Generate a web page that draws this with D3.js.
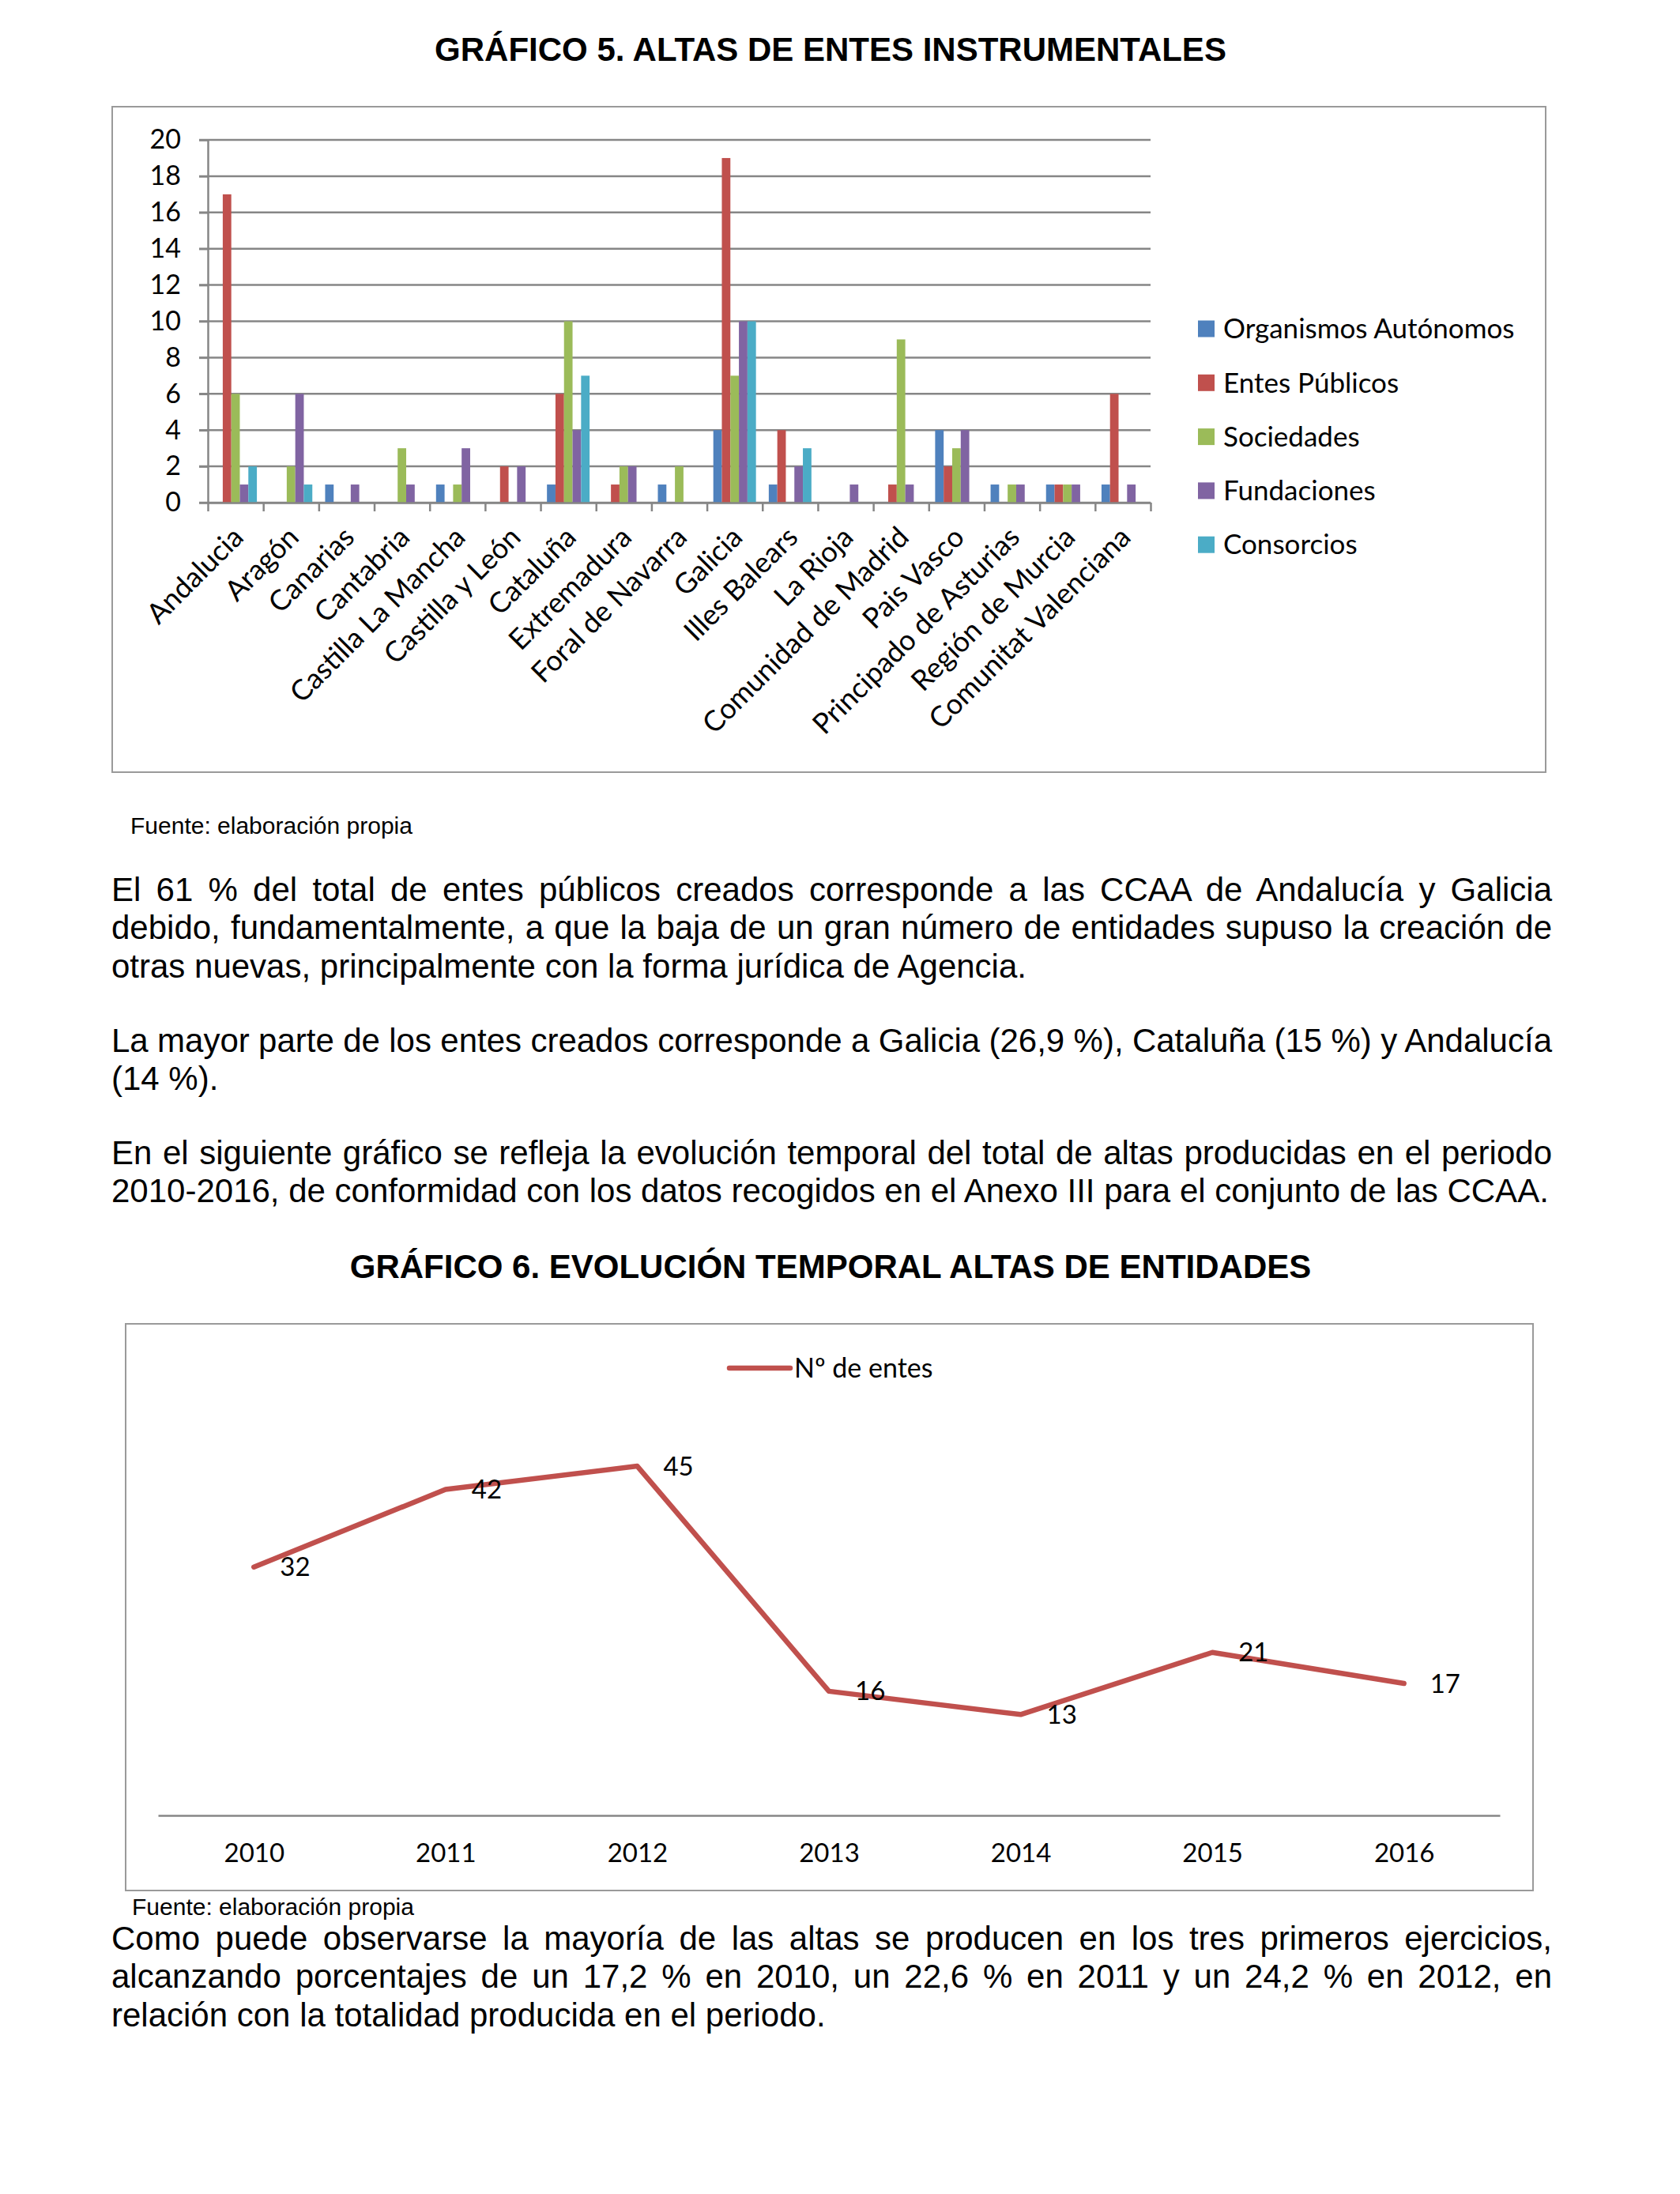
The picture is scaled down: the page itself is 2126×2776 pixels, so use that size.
<!DOCTYPE html>
<html>
<head>
<meta charset="utf-8">
<script src="https://cdn.jsdelivr.net/npm/d3@7"></script>
<style>
  html, body { margin: 0; padding: 0; background: #fff; }
  body { width: 2126px; height: 2776px; position: relative; overflow: hidden; }
  svg { position: absolute; left: 0; top: 0; }
  .line { position: absolute; left: 141px; width: 1823px; font-family: "Liberation Sans", Arial, sans-serif;
          font-size: 42px; line-height: 42px; color: #000; white-space: nowrap; }
</style>
</head>
<body>
<svg id="page" width="2126" height="2776"></svg>
<script>
// ---------- DATA ----------
const categories = ["Andalucia", "Aragón", "Canarias", "Cantabria", "Castilla La Mancha", "Castilla y León",
  "Cataluña", "Extremadura", "Foral de Navarra", "Galicia", "Illes Balears", "La Rioja",
  "Comunidad de Madrid", "Pais Vasco", "Principado de Asturias", "Región de Murcia", "Comunitat Valenciana"];
const seriesNames = ["Organismos Autónomos", "Entes Públicos", "Sociedades", "Fundaciones", "Consorcios"];
const organismosAutonomos = [0, 0, 1, 0, 1, 0, 1, 0, 1, 4, 1, 0, 0, 4, 1, 1, 1];
const entesPublicos       = [17, 0, 0, 0, 0, 2, 6, 1, 0, 19, 4, 0, 1, 2, 0, 1, 6];
const sociedades          = [6, 2, 0, 3, 1, 0, 10, 2, 2, 7, 0, 0, 9, 3, 1, 1, 0];
const fundaciones         = [1, 6, 1, 1, 3, 2, 4, 2, 0, 10, 2, 1, 1, 4, 1, 1, 1];
const consorcios          = [2, 1, 0, 0, 0, 0, 7, 0, 0, 10, 3, 0, 0, 0, 0, 0, 0];
const yTicks = [0, 2, 4, 6, 8, 10, 12, 14, 16, 18, 20];

const years = ["2010", "2011", "2012", "2013", "2014", "2015", "2016"];
const numEntes = [32, 42, 45, 16, 13, 21, 17];
const lineSeriesName = "Nº de entes";

// ---------- STYLE ----------
const seriesColors = ["#4F81BD", "#C0504D", "#9BBB59", "#8064A2", "#4BACC6"];
const chartFont = "Lato, 'Open Sans', sans-serif";
const bodyFont = "'Liberation Sans', Arial, sans-serif";
const gridColor = "#868686";

const svg = d3.select("#page");

// ---------- TITLES & SOURCES ----------
svg.append("text").attr("x", 1051).attr("y", 77).attr("text-anchor", "middle")
  .attr("font-family", bodyFont).attr("font-weight", "bold").attr("font-size", 42)
  .text("GRÁFICO 5. ALTAS DE ENTES INSTRUMENTALES");
svg.append("text").attr("x", 1051).attr("y", 1617).attr("text-anchor", "middle")
  .attr("font-family", bodyFont).attr("font-weight", "bold").attr("font-size", 42)
  .text("GRÁFICO 6. EVOLUCIÓN TEMPORAL ALTAS DE ENTIDADES");
svg.append("text").attr("x", 165).attr("y", 1055)
  .attr("font-family", bodyFont).attr("font-size", 30).text("Fuente: elaboración propia");
svg.append("text").attr("x", 167).attr("y", 2423)
  .attr("font-family", bodyFont).attr("font-size", 30).text("Fuente: elaboración propia");

// ---------- CHART 1: grouped bars ----------
const c1 = svg.append("g");
c1.append("rect").attr("x", 142).attr("y", 135).attr("width", 1814).attr("height", 842)
  .attr("fill", "#fff").attr("stroke", "#9a9a9a").attr("stroke-width", 2);

const plotL = 263, plotR = 1456, plotT = 177, plotB = 636;
const y1 = d3.scaleLinear().domain([0, 20]).range([plotB, plotT]);
const x0 = d3.scaleBand().domain(categories).range([plotL, plotR]).padding(0);
const x1 = d3.scaleBand().domain(seriesNames).range([0, x0.bandwidth()]).paddingInner(0).paddingOuter(0.75);
const tickScale = d3.scaleLinear().domain([0, categories.length]).range([plotL, plotR]);

// gridlines
c1.append("g").selectAll("line").data(yTicks).join("line")
  .attr("x1", plotL - 11).attr("x2", plotR).attr("y1", d => y1(d)).attr("y2", d => y1(d))
  .attr("stroke", gridColor).attr("stroke-width", 2.5);

// bars
const seriesValues = [organismosAutonomos, entesPublicos, sociedades, fundaciones, consorcios];
seriesNames.forEach((s, si) => {
  c1.append("g").selectAll("rect").data(seriesValues[si]).join("rect")
    .attr("x", (d, i) => x0(categories[i]) + x1(s))
    .attr("width", x1.bandwidth())
    .attr("y", d => y1(d))
    .attr("height", d => plotB - y1(d))
    .attr("fill", seriesColors[si]);
});

// y axis
const yAxis = c1.append("g").attr("transform", `translate(${plotL},0)`)
  .call(d3.axisLeft(y1).tickValues(yTicks).tickSize(11).tickPadding(23).tickSizeOuter(0));
yAxis.select(".domain").attr("stroke", gridColor).attr("stroke-width", 2.5);
yAxis.selectAll(".tick line").attr("stroke", gridColor).attr("stroke-width", 2.5);
yAxis.selectAll(".tick text").attr("font-family", chartFont).attr("font-size", 34).attr("fill", "#000");

// x axis (ticks between categories)
const xAxis = c1.append("g").attr("transform", `translate(0,${plotB})`)
  .call(d3.axisBottom(tickScale).tickValues(d3.range(categories.length + 1)).tickFormat("").tickSize(11).tickSizeOuter(0));
xAxis.select(".domain").attr("stroke", gridColor).attr("stroke-width", 2.5);
xAxis.selectAll(".tick line").attr("stroke", gridColor).attr("stroke-width", 2.5);

// category labels
c1.append("g").selectAll("text").data(categories).join("text")
  .attr("transform", d => `translate(${x0(d) + x0.bandwidth() / 2 + 12},${plotB + 46}) rotate(-45)`)
  .attr("text-anchor", "end")
  .attr("font-family", chartFont).attr("font-size", 36).attr("fill", "#000")
  .text(d => d);

// legend
const leg1 = c1.append("g").selectAll("g").data(seriesNames).join("g")
  .attr("transform", (d, i) => `translate(1516,${416 + i * 68.3})`);
leg1.append("rect").attr("x", 0).attr("y", -10.5).attr("width", 21).attr("height", 21)
  .attr("fill", (d, i) => seriesColors[i]);
leg1.append("text").attr("x", 32).attr("y", 0).attr("dy", "0.35em")
  .attr("font-family", chartFont).attr("font-size", 35).attr("fill", "#000").text(d => d);

// ---------- CHART 2: line ----------
const c2 = svg.append("g");
c2.append("rect").attr("x", 159).attr("y", 1675).attr("width", 1781).attr("height", 717)
  .attr("fill", "#fff").attr("stroke", "#9a9a9a").attr("stroke-width", 2);

const lx = d3.scalePoint().domain(years).range([200, 1898]).padding(0.5);
const ly = d3.scaleLinear().domain([0, 50]).range([2297, 1806]);

const xAxis2 = c2.append("g").attr("transform", `translate(0,${ly(0)})`)
  .call(d3.axisBottom(lx).tickSize(0).tickPadding(36).tickSizeOuter(0));
xAxis2.select(".domain").attr("stroke", gridColor).attr("stroke-width", 2.5);
xAxis2.selectAll(".tick text").attr("font-family", chartFont).attr("font-size", 33).attr("fill", "#000");

const lineGen = d3.line().x((d, i) => lx(years[i])).y(d => ly(d));
c2.append("path").datum(numEntes).attr("d", lineGen)
  .attr("fill", "none").attr("stroke", "#C0504D").attr("stroke-width", 6.5)
  .attr("stroke-linejoin", "round").attr("stroke-linecap", "round");

c2.append("g").selectAll("text").data(numEntes).join("text")
  .attr("x", (d, i) => lx(years[i]) + 33).attr("y", d => ly(d)).attr("dy", "0.35em")
  .attr("font-family", chartFont).attr("font-size", 33).attr("fill", "#000").text(d => d);

c2.append("line").attr("x1", 923).attr("x2", 1000).attr("y1", 1731).attr("y2", 1731)
  .attr("stroke", "#C0504D").attr("stroke-width", 6.5).attr("stroke-linecap", "round");
c2.append("text").attr("x", 1005).attr("y", 1731).attr("dy", "0.35em")
  .attr("font-family", chartFont).attr("font-size", 34).attr("fill", "#000").text(lineSeriesName);

// ---------- BODY TEXT ----------
const bodyLines = [
  { text: "El 61 % del total de entes públicos creados corresponde a las CCAA de Andalucía y Galicia", base: 1140, just: true },
  { text: "debido, fundamentalmente, a que la baja de un gran número de entidades supuso la creación de", base: 1188.5, just: true },
  { text: "otras nuevas, principalmente con la forma jurídica de Agencia.", base: 1237, just: false },
  { text: "La mayor parte de los entes creados corresponde a Galicia (26,9 %), Cataluña (15 %) y Andalucía", base: 1331, just: true },
  { text: "(14 %).", base: 1379.5, just: false },
  { text: "En el siguiente gráfico se refleja la evolución temporal del total de altas producidas en el periodo", base: 1473, just: true },
  { text: "2010-2016, de conformidad con los datos recogidos en el Anexo III para el conjunto de las CCAA.", base: 1521.5, just: false },
  { text: "Como puede observarse la mayoría de las altas se producen en los tres primeros ejercicios,", base: 2467, just: true },
  { text: "alcanzando porcentajes de un 17,2 % en 2010, un 22,6 % en 2011 y un 24,2 % en 2012, en", base: 2515.5, just: true },
  { text: "relación con la totalidad producida en el periodo.", base: 2564, just: false }
];
const lineWidth = 1823;
const divs = d3.select("body").selectAll("div.line").data(bodyLines).join("div")
  .attr("class", "line")
  .style("top", d => (d.base - 35.5) + "px");
divs.append("span").text(d => d.text);
divs.each(function(d) {
  const span = this.querySelector("span");
  const w = span.getBoundingClientRect().width;
  const nSpaces = (d.text.match(/ /g) || []).length;
  if (d.just && nSpaces > 0) {
    d3.select(this).style("word-spacing", ((lineWidth - w) / nSpaces) + "px");
  } else if (w > lineWidth) {
    d3.select(this).style("letter-spacing", ((lineWidth - w) / d.text.length) + "px");
  }
});
</script>
</body>
</html>
